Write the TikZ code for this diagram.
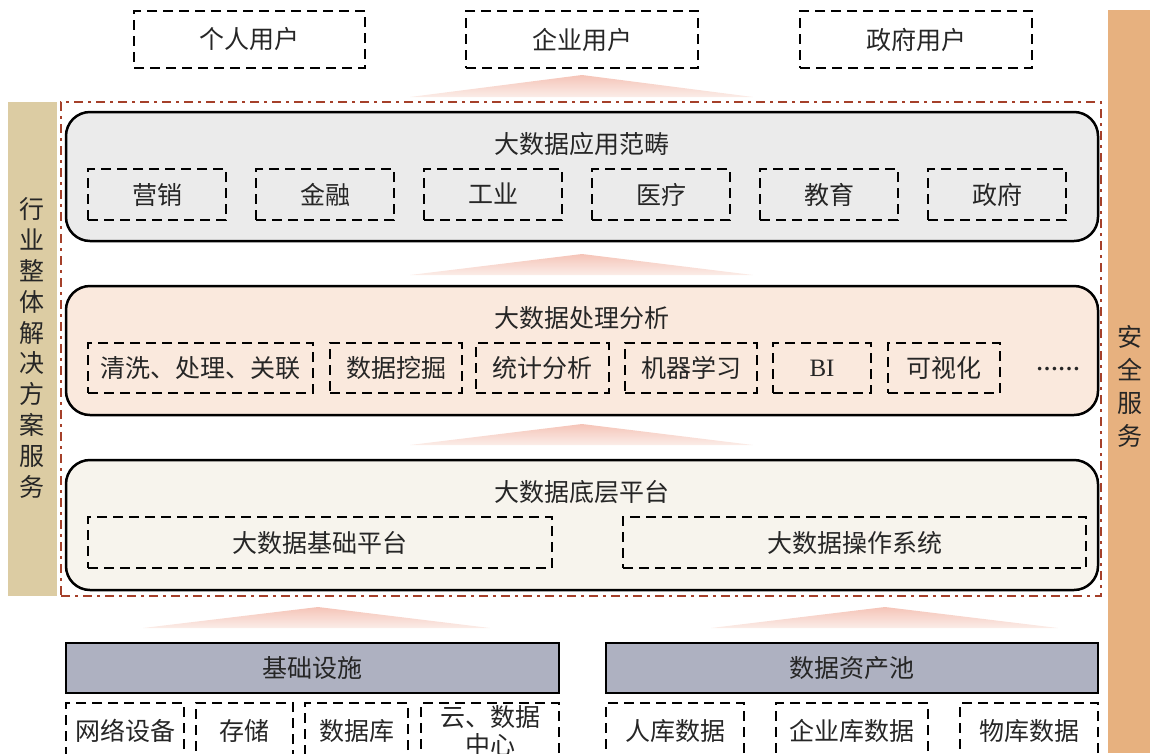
\documentclass[tikz,border=0pt]{standalone}
\usepackage{fontspec}
\setmainfont{Liberation Serif}
\newfontfamily\cjk{Noto Sans CJK SC}
\definecolor{txt}{HTML}{262626}
\definecolor{fillA}{HTML}{EBEBEB}
\definecolor{fillB}{HTML}{FAE9DD}
\definecolor{fillC}{HTML}{F7F4ED}
\definecolor{fillD}{HTML}{AEB1C1}
\definecolor{barL}{HTML}{DCCCA3}
\definecolor{barR}{HTML}{E7B17F}
\definecolor{redd}{HTML}{A5402A}
\definecolor{triT}{HTML}{F5C4B8}
\definecolor{triB}{HTML}{FBEDE8}
\tikzset{
  lbl/.style={font=\cjk\fontsize{25}{30}\selectfont, text=txt},
  dbox/.style={draw=black, line width=2.5pt, dash pattern=on 10pt off 6pt, inner sep=0pt, lbl},
  layer/.style={draw=black, line width=2.5pt, rounded corners=24pt, inner sep=0pt},
  solidbox/.style={draw=black, line width=2.5pt, inner sep=0pt, fill=fillD, lbl},
  uparrow/.style={top color=triT, bottom color=triB, draw=none},
}
\begin{document}
\begin{tikzpicture}[x=1pt,y=-1pt]
\useasboundingbox (0,0) rectangle (1150,753);
% side bars
\node[fill=barR, minimum width=42pt, minimum height=743pt, inner sep=0pt] (secbar) at (1129,381.5) {};
\node[lbl, align=center, font=\cjk\fontsize{25}{33}\selectfont] (sectxt) at (1130,386) {安\\全\\服\\务};
\node[fill=barL, minimum width=49pt, minimum height=494pt, inner sep=0pt] (indbar) at (32.5,349) {};
\node[lbl, align=center, font=\cjk\fontsize{25}{30.9}\selectfont] (indtxt) at (32,348) {行\\业\\整\\体\\解\\决\\方\\案\\服\\务};
% red dash-dot frame
\node[draw=redd, line width=2.5pt, dash pattern=on 9pt off 5pt on 3pt off 5pt, minimum width=1040pt, minimum height=494pt, inner sep=0pt] (frame) at (581,349) {};
% top users
\node[dbox, minimum width=231pt, minimum height=57pt] (u1) at (249.5,39.5) {个人用户};
\node[dbox, minimum width=232pt, minimum height=57pt] (u2) at (582,39.5) {企业用户};
\node[dbox, minimum width=232pt, minimum height=57pt] (u3) at (916,39.5) {政府用户};
% arrows (gradient triangles)
\shade[uparrow] (582,75) -- (753,97) -- (410,97) -- cycle;
\shade[uparrow] (582,254) -- (753,275) -- (410,275) -- cycle;
\shade[uparrow] (582,424) -- (753,445) -- (410,445) -- cycle;
\shade[uparrow] (318,607) -- (490,628) -- (143,628) -- cycle;
\shade[uparrow] (885,607) -- (1058,628) -- (711,628) -- cycle;
% layer 1
\node[layer, fill=fillA, minimum width=1032pt, minimum height=129pt] (L1) at (582,176.5) {};
\node[lbl] (L1t) at (582,144) {大数据应用范畴};
\foreach \n/\x/\t in {a/157/营销, b/325/金融, c/493/工业, d/661/医疗, e/829/教育, f/997/政府}
  \node[dbox, minimum width=138pt, minimum height=51pt, text depth=2pt] (L1\n) at (\x,194.5) {\t};
% layer 2
\node[layer, fill=fillB, minimum width=1032pt, minimum height=129pt] (L2) at (582,350.5) {};
\node[lbl] (L2t) at (582,318) {大数据处理分析};
\node[dbox, minimum width=225pt, minimum height=50pt] (L2a) at (200.5,368) {清洗、处理、关联};
\node[dbox, minimum width=132pt, minimum height=50pt] (L2b) at (396,368) {数据挖掘};
\node[dbox, minimum width=133pt, minimum height=50pt] (L2c) at (542.5,368) {统计分析};
\node[dbox, minimum width=132pt, minimum height=50pt] (L2d) at (691,368) {机器学习};
\node[dbox, minimum width=98pt, minimum height=50pt, font=\fontsize{25}{30}\selectfont] (L2e) at (822,368) {BI};
\node[dbox, minimum width=112pt, minimum height=50pt] (L2f) at (944,368) {可视化};
\node[lbl, font=\bfseries\fontsize{22}{26}\selectfont] (L2g) at (1058,369) {……};
% layer 3
\node[layer, fill=fillC, minimum width=1032pt, minimum height=130pt] (L3) at (582,525) {};
\node[lbl] (L3t) at (582,492) {大数据底层平台};
\node[dbox, minimum width=464pt, minimum height=51pt] (L3a) at (320,542.5) {大数据基础平台};
\node[dbox, minimum width=463pt, minimum height=51pt] (L3b) at (854.5,542.5) {大数据操作系统};
% bottom
\node[solidbox, minimum width=493pt, minimum height=50pt] (infra) at (312.5,668) {基础设施};
\node[solidbox, minimum width=492pt, minimum height=50pt] (pool) at (852,668) {数据资产池};
\node[dbox, minimum width=118pt, minimum height=56pt] (i1) at (125,731) {网络设备};
\node[dbox, minimum width=97pt, minimum height=56pt] (i2) at (244.5,731) {存储};
\node[dbox, minimum width=103pt, minimum height=56pt] (i3) at (356.5,731) {数据库};
\node[dbox, minimum width=138pt, minimum height=56pt, align=center, font=\cjk\fontsize{25}{28}\selectfont] (i4) at (490,731) {云、数据\\中心};
\node[dbox, minimum width=138pt, minimum height=56pt] (p1) at (675,731) {人库数据};
\node[dbox, minimum width=152pt, minimum height=56pt] (p2) at (852,731) {企业库数据};
\node[dbox, minimum width=138pt, minimum height=56pt] (p3) at (1029,731) {物库数据};
\end{tikzpicture}
\end{document}
